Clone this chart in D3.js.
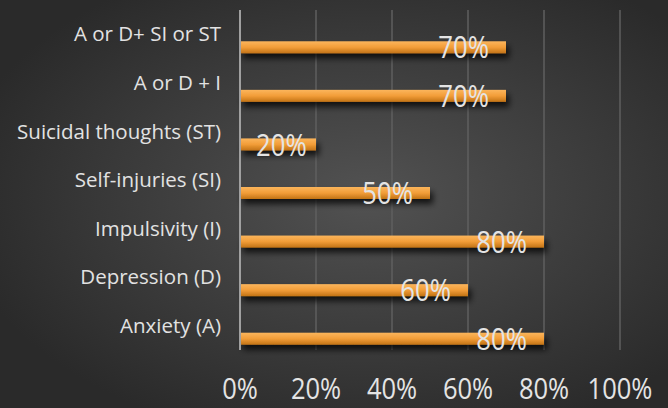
<!DOCTYPE html>
<html>
<head>
<meta charset="utf-8">
<script src="https://cdn.jsdelivr.net/npm/d3@7"></script>
<style>
  body { margin: 0; background: #333; }
  svg { display: block; }
</style>
</head>
<body>
<svg width="668" height="408"></svg>
<script>
// categories top to bottom, values in percent
const categories = ["A or D+ SI or ST", "A or D + I", "Suicidal thoughts (ST)", "Self-injuries (SI)",
                    "Impulsivity (I)", "Depression (D)", "Anxiety (A)"];
const values = [70, 70, 20, 50, 80, 60, 80];
const ticks = [0, 20, 40, 60, 80, 100];

const svg = d3.select("svg");
const W = 668, H = 408;
const margin = {top: 10, right: 48, bottom: 58, left: 240};

const defs = svg.append("defs");

const bg = defs.append("radialGradient").attr("id", "bg")
    .attr("cx", "55%").attr("cy", "48%").attr("r", "62%");
bg.append("stop").attr("offset", "0%").attr("stop-color", "#525252");
bg.append("stop").attr("offset", "100%").attr("stop-color", "#2a2a2a");

const barGrad = defs.append("linearGradient").attr("id", "bar")
    .attr("x1", 0).attr("y1", 0).attr("x2", 0).attr("y2", 1);
barGrad.append("stop").attr("offset", "0%").attr("stop-color", "#fbb55c");
barGrad.append("stop").attr("offset", "50%").attr("stop-color", "#f29d38");
barGrad.append("stop").attr("offset", "100%").attr("stop-color", "#c27316");

const shadow = defs.append("filter").attr("id", "shadow")
    .attr("x", "-10%").attr("y", "-50%").attr("width", "130%").attr("height", "250%");
shadow.append("feDropShadow").attr("dx", 3).attr("dy", 5).attr("stdDeviation", 3)
    .attr("flood-color", "#000").attr("flood-opacity", 0.75);

svg.append("rect").attr("width", W).attr("height", H).attr("fill", "url(#bg)");

const x = d3.scaleLinear().domain([0, 100]).range([margin.left, 620]);
const y = d3.scaleBand().domain(categories).range([margin.top, H - margin.bottom]);

// gridlines
svg.append("g").selectAll("line")
    .data(ticks.slice(1))
    .join("line")
    .attr("x1", d => x(d)).attr("x2", d => x(d))
    .attr("y1", margin.top).attr("y2", H - margin.bottom)
    .attr("stroke", "#5f5f5f").attr("stroke-width", 1.5);

// bars sit in the lower part of each band
const barH = 12;
const barOff = y.bandwidth() / 2 + 13;
svg.append("g").selectAll("rect")
    .data(categories)
    .join("rect")
    .attr("x", x(0))
    .attr("y", d => y(d) + barOff - barH / 2)
    .attr("width", (d, i) => x(values[i]) - x(0))
    .attr("height", barH)
    .attr("fill", "url(#bar)")
    .attr("filter", "url(#shadow)");

// vertical axis line
svg.append("line")
    .attr("x1", x(0)).attr("x2", x(0))
    .attr("y1", margin.top).attr("y2", H - margin.bottom)
    .attr("stroke", "#a0a0a0").attr("stroke-width", 2);

// category labels
svg.append("g").selectAll("text")
    .data(categories)
    .join("text")
    .attr("x", x(0) - 19)
    .attr("y", d => y(d) + y.bandwidth() / 2)
    .attr("dy", "0.35em")
    .attr("text-anchor", "end")
    .attr("fill", "#e2e2e2")
    .attr("font-family", "'Open Sans', sans-serif")
    .attr("font-size", 20.5)
    .text(d => d);

// narrow numbers: Open Sans squeezed horizontally
const numFont = "'Open Sans', sans-serif";
const squeeze = 0.83;

// value labels, inside the bar end
svg.append("g").selectAll("text")
    .data(categories)
    .join("text")
    .attr("dy", "0.36em")
    .attr("text-anchor", "end")
    .attr("fill", "#e4e4e4")
    .attr("font-family", numFont)
    .attr("font-size", 31)
    .text((d, i) => values[i] + "%")
    .attr("transform", function(d, i) {
        const w = this.getComputedTextLength() * squeeze;
        const xr = Math.max(x(values[i]) - 17, x(0) + 16 + w);
        return `translate(${xr},${y(d) + barOff}) scale(${squeeze},1)`;
    });

// x tick labels
svg.append("g").selectAll("text")
    .data(ticks)
    .join("text")
    .attr("text-anchor", "middle")
    .attr("fill", "#e4e4e4")
    .attr("font-family", numFont)
    .attr("font-size", 30)
    .attr("transform", d => `translate(${x(d)},399) scale(0.85,1)`)
    .text(d => d + "%");
</script>
</body>
</html>
